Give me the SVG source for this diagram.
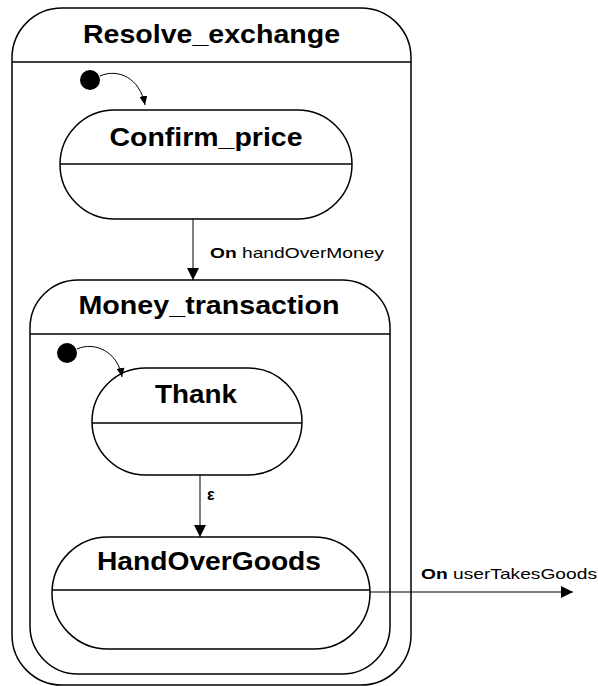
<svg xmlns="http://www.w3.org/2000/svg" width="598" height="686" viewBox="0 0 598 686">
  <style>
    .state { fill: #ffffff; stroke: #000000; stroke-width: 1.5; }
    .divider { stroke: #000000; stroke-width: 1.5; }
    .title { font-family: "Liberation Sans", Arial, sans-serif; font-size: 25.5px; font-weight: bold; fill: #000000; text-anchor: middle; }
    .label { font-family: "Liberation Sans", Arial, sans-serif; font-size: 15px; fill: #000000; }
    .kw { font-weight: bold; }
    .eps { font-family: "Liberation Sans", Arial, sans-serif; font-size: 16px; font-weight: bold; fill: #000000; }
    .edge { fill: none; stroke: #000000; stroke-width: 1; }
    .initial { fill: #000000; }
  </style>
  <defs>
    <marker id="arrow" markerUnits="userSpaceOnUse" markerWidth="12" markerHeight="12" refX="12" refY="6" orient="auto">
      <path d="M0,0 L12,6 L0,12 z" fill="#000000"/>
    </marker>
    <marker id="arrowSmall" markerUnits="userSpaceOnUse" markerWidth="9" markerHeight="8" refX="9" refY="4" orient="auto">
      <path d="M0,0 L9,4 L0,8 z" fill="#000000"/>
    </marker>
  </defs>

  <!-- composite state: Resolve_exchange -->
  <g id="resolve_exchange">
    <rect class="state" x="12" y="8" width="399" height="677" rx="50" ry="50"/>
    <line class="divider" x1="12" y1="62" x2="411" y2="62"/>
    <text class="title" x="211.5" y="43" textLength="257" lengthAdjust="spacingAndGlyphs">Resolve_exchange</text>
  </g>

  <g id="initial_1">
    <circle class="initial" cx="90" cy="80" r="10"/>
  </g>

  <g id="confirm_price">
    <rect class="state" x="60" y="110" width="292" height="109" rx="54.5" ry="54.5"/>
    <line class="divider" x1="60" y1="164" x2="352" y2="164"/>
    <text class="title" x="206" y="146" textLength="193" lengthAdjust="spacingAndGlyphs">Confirm_price</text>
  </g>

  <!-- composite state: Money_transaction -->
  <g id="money_transaction">
    <rect class="state" x="30" y="280" width="360" height="394" rx="48" ry="48"/>
    <line class="divider" x1="30" y1="334" x2="390" y2="334"/>
    <text class="title" x="209" y="314" textLength="261" lengthAdjust="spacingAndGlyphs">Money_transaction</text>
  </g>

  <g id="initial_2">
    <circle class="initial" cx="67" cy="353" r="10"/>
  </g>

  <g id="thank">
    <rect class="state" x="92" y="368" width="210" height="107" rx="53.5" ry="53.5"/>
    <line class="divider" x1="92" y1="423" x2="302" y2="423"/>
    <text class="title" x="196" y="403" textLength="82" lengthAdjust="spacingAndGlyphs">Thank</text>
  </g>

  <g id="hand_over_goods">
    <rect class="state" x="52" y="537" width="318" height="112" rx="56" ry="56"/>
    <line class="divider" x1="52" y1="590" x2="370" y2="590"/>
    <text class="title" x="209" y="570" textLength="224" lengthAdjust="spacingAndGlyphs">HandOverGoods</text>
  </g>

  <!-- transitions -->
  <g id="connectors">
    <path class="edge" d="M100,76 C118,68 140,78 145,105" marker-end="url(#arrowSmall)"/>
    <line class="edge" x1="193" y1="219" x2="193" y2="280" marker-end="url(#arrow)"/>
    <text class="label" x="210" y="258" textLength="174" lengthAdjust="spacingAndGlyphs"><tspan class="kw">On</tspan> handOverMoney</text>

    <path class="edge" d="M77,349 C95,341 118,352 122,377" marker-end="url(#arrowSmall)"/>
    <line class="edge" x1="200" y1="475" x2="200" y2="537" marker-end="url(#arrow)"/>
    <text class="eps" x="207" y="500">ε</text>

    <line class="edge" x1="370" y1="592" x2="573" y2="592" marker-end="url(#arrow)"/>
    <text class="label" x="421" y="579" textLength="176" lengthAdjust="spacingAndGlyphs"><tspan class="kw">On</tspan> userTakesGoods</text>
  </g>
</svg>
